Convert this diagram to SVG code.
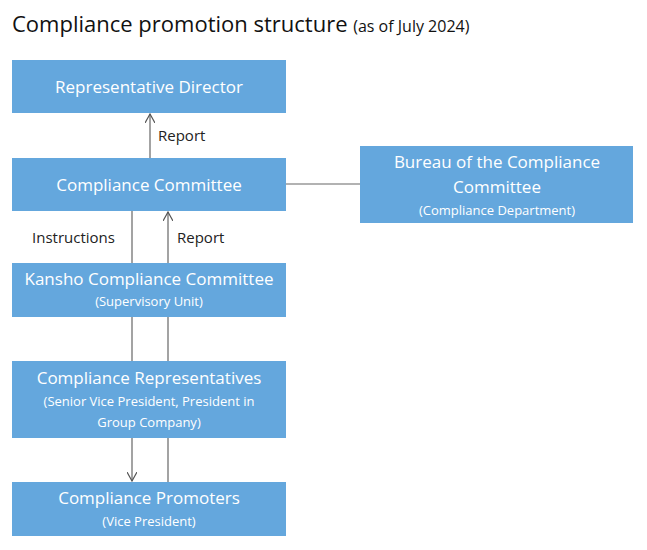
<svg xmlns="http://www.w3.org/2000/svg" width="647" height="550" viewBox="0 0 647 550">
<style>
.box{fill:#64a7dd}
.t{font-family:"Open Sans","Liberation Sans",sans-serif;fill:#fff;text-anchor:middle}
.m{font-size:17px}
.s{font-size:13px}
.l{font-family:"Open Sans","Liberation Sans",sans-serif;font-size:15px;fill:#222}
.c{stroke:#666;stroke-width:1.2;fill:none}
</style>
<defs><marker id="a" viewBox="0 0 10 10" refX="9" refY="5" markerWidth="10" markerHeight="10" markerUnits="userSpaceOnUse" orient="auto"><path d="M0,0L9,5L0,10" fill="none" stroke="#555" stroke-width="1.2"/></marker></defs>
<rect width="647" height="550" fill="#fff"/>
<text x="12" y="32" font-family="'Open Sans','Liberation Sans',sans-serif" font-size="22" fill="#111">Compliance promotion structure <tspan font-size="16">(as of July 2024)</tspan></text>
<g id="connectors">
<line class="c" x1="150" y1="158" x2="150" y2="114" marker-end="url(#a)"/>
<line class="c" x1="132" y1="211" x2="132" y2="481" marker-end="url(#a)"/>
<line class="c" x1="168" y1="482" x2="168" y2="212" marker-end="url(#a)"/>
<line class="c" x1="286" y1="184" x2="360" y2="184"/>
<text class="l" x="158" y="141">Report</text>
<text class="l" x="32" y="243">Instructions</text>
<text class="l" x="177" y="243">Report</text>
</g>
<g id="rep"><rect class="box" x="12" y="60" width="274" height="53"/><text class="t m" x="149" y="93">Representative Director</text></g>
<g id="cc"><rect class="box" x="12" y="158" width="274" height="53"/><text class="t m" x="149" y="191">Compliance Committee</text></g>
<g id="bureau"><rect class="box" x="360" y="146" width="273" height="77"/><text class="t m" x="497" y="168">Bureau of the Compliance</text><text class="t m" x="497" y="193">Committee</text><text class="t s" x="497" y="215">(Compliance Department)</text></g>
<g id="kansho"><rect class="box" x="12" y="263" width="274" height="54"/><text class="t m" x="149" y="285">Kansho Compliance Committee</text><text class="t s" x="149" y="306">(Supervisory Unit)</text></g>
<g id="reps"><rect class="box" x="12" y="361" width="274" height="77"/><text class="t m" x="149" y="384">Compliance Representatives</text><text class="t s" x="149" y="406">(Senior Vice President, President in</text><text class="t s" x="149" y="427">Group Company)</text></g>
<g id="prom"><rect class="box" x="12" y="482" width="274" height="54"/><text class="t m" x="149" y="504">Compliance Promoters</text><text class="t s" x="149" y="526">(Vice President)</text></g>
</svg>
